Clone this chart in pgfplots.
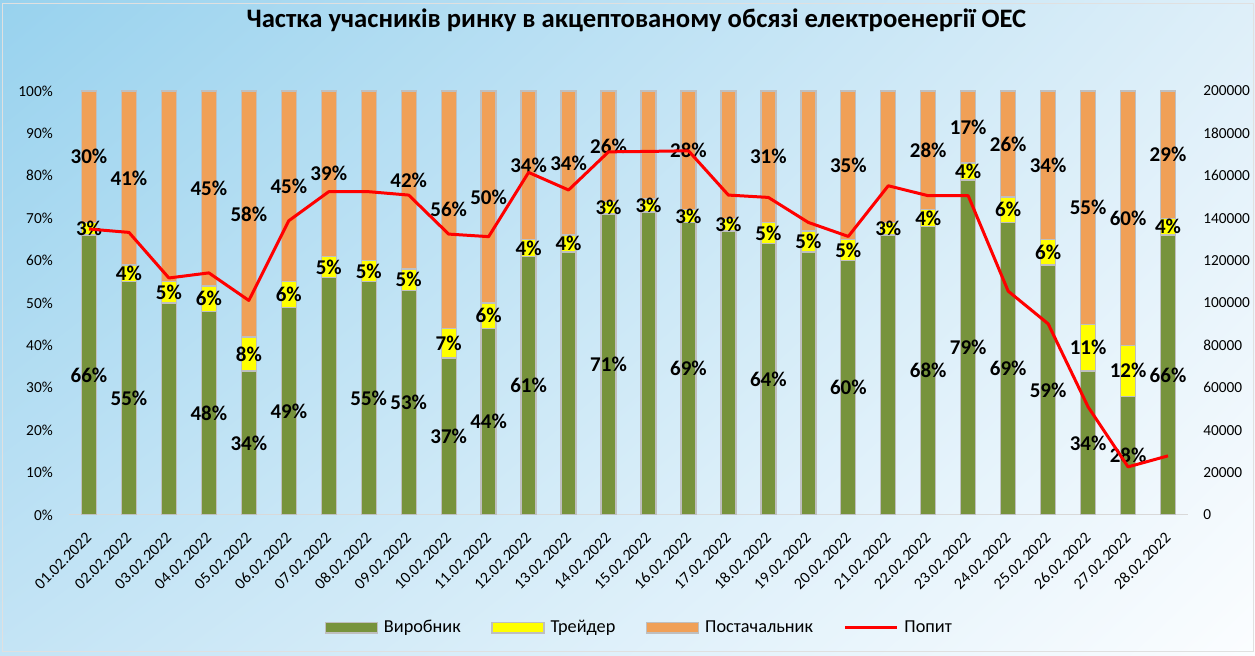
\documentclass[border=0pt]{standalone}
\usepackage{fontspec}
\setmainfont{Carlito}
\usepackage{pgfplots}
\usepackage{pgfplotstable}
\usetikzlibrary{shadings}
\pgfplotsset{compat=1.18}

\definecolor{cgreen}{HTML}{77933C}
\definecolor{cyellow}{HTML}{FFFF00}
\definecolor{corange}{HTML}{F0A057}
\definecolor{cborder}{HTML}{BFBFBF}
\definecolor{caxis}{HTML}{D9D9D9}
\definecolor{bgul}{HTML}{98D2EE}
\definecolor{bgur}{HTML}{DEEFF9}
\definecolor{bgll}{HTML}{C4E4F5}
\definecolor{bglr}{HTML}{FBFDFF}

% x: day index; gen/trd/sup: shares in %; sg/st/ss: label shown (1) or hidden (0); dem: demand
\pgfplotstableread{
x  gen  trd sup sg st ss dem
0  66   3   30  1  1  1  134900
1  55   4   41  1  1  1  133300
2  50   5   45  0  1  0  111800
3  48   6   45  1  1  1  114200
4  34   8   58  1  1  1  101200
5  49   6   45  1  1  1  138800
6  56   5   39  0  1  1  152500
7  55   5   41  1  1  0  152500
8  53   5   42  1  1  1  150900
9  37   7   56  1  1  1  132500
10 44   6   50  1  1  1  131300
11 61   4   34  1  1  1  161600
12 62   4   34  0  1  1  153300
13 71   3   26  1  1  1  171300
14 71.5 3   25  0  1  0  171500
15 69   3   28  1  1  1  171800
16 67   3   30  0  1  0  150900
17 64   5   31  1  1  1  149800
18 62   5   33  0  1  0  138000
19 60   5   35  1  1  1  131400
20 66   3   31  0  1  0  155300
21 68   4   28  1  1  1  150600
22 79   4   17  1  1  1  150600
23 69   6   26  1  1  1  105600
24 59   6   34  1  1  1  90200
25 34   11  55  1  1  1  51000
26 28   12  60  1  1  1  22700
27 66   4   29  1  1  1  27900
}\data

\pgfplotsset{
  base/.style={
    at={(51.75pt,105.75pt)}, anchor=south west,
    scale only axis, width=839.25pt, height=318pt,
    xmin=-0.5, xmax=27.5,
    /pgf/number format/assume math mode=true,
  },
  lbl/.style={
    draw=none, no markers, point meta=explicit,
    nodes near coords={\pgfmathprintnumber[fixed,precision=0]{\pgfplotspointmeta}\%},
    every node near coord/.append style={anchor=center, inner sep=0pt,
      font=\bfseries\fontsize{15.75}{18}\selectfont, text=black},
  },
}

\begin{document}
\begin{tikzpicture}
\useasboundingbox (0,0) rectangle (941.25pt,492pt);
\shade[upper left=bgul, upper right=bgur, lower left=bgll, lower right=bglr]
  (0,0) rectangle (941.25pt,492pt);
\draw[black!12, line width=0.75pt] (1.5pt,3pt) rectangle (939.75pt,489pt);

% bars
\begin{axis}[base,
  ybar stacked, bar width=11.25pt,
  ymin=0, ymax=100,
  axis lines*=left, axis line style={-},
  y axis line style={draw=none},
  x axis line style={draw=caxis, line width=0.75pt},
  ytick={0,10,...,100},
  yticklabel={\pgfmathprintnumber{\tick}\%},
  yticklabel style={anchor=east, inner sep=0pt, xshift=-12pt,
    font=\fontsize{11.5}{13}\selectfont},
  ytick style={draw=none},
  xtick={0,...,27},
  xticklabels={01.02.2022,02.02.2022,03.02.2022,04.02.2022,05.02.2022,06.02.2022,07.02.2022,
    08.02.2022,09.02.2022,10.02.2022,11.02.2022,12.02.2022,13.02.2022,14.02.2022,
    15.02.2022,16.02.2022,17.02.2022,18.02.2022,19.02.2022,20.02.2022,21.02.2022,
    22.02.2022,23.02.2022,24.02.2022,25.02.2022,26.02.2022,27.02.2022,28.02.2022},
  xticklabel style={xshift=0pt, yshift=-15pt, rotate=45, anchor=east, inner sep=0pt,
    font=\fontsize{12}{14}\selectfont},
  major x tick style={draw=none},
  extra x ticks={-0.5,0.5,...,27.5},
  extra x tick labels={},
  extra x tick style={tick align=outside, major tick length=4.5pt,
    tick style={draw=caxis, line width=0.75pt}},
  title={Частка учасників ринку в акцептованому обсязі електроенергії ОЕС},
  title style={at={(0.507,1.132)}, anchor=base,
    font=\bfseries\fontsize{20}{24}\selectfont},
]
\addplot[fill=cgreen, draw=cborder, line width=1pt] table[x=x, y=gen] {\data};
\addplot[fill=cyellow, draw=cborder, line width=1pt] table[x=x, y=trd] {\data};
\addplot[fill=corange, draw=cborder, line width=1pt] table[x=x, y expr={100-\thisrow{gen}-\thisrow{trd}}] {\data};
\end{axis}

% data labels
\begin{axis}[base, hide axis, clip=false, ymin=0, ymax=100]
\addplot[lbl] table[x=x, y expr={\thisrow{sg}>0 ? \thisrow{gen}/2 : nan}, meta=gen] {\data};
\addplot[lbl] table[x=x, y expr={\thisrow{st}>0 ? \thisrow{gen}+\thisrow{trd}/2 : nan}, meta=trd] {\data};
\addplot[lbl] table[x=x, y expr={\thisrow{ss}>0 ? (100+\thisrow{gen}+\thisrow{trd})/2 : nan}, meta=sup] {\data};
\end{axis}

% demand, right axis
\begin{axis}[base,
  ymin=0, ymax=200000,
  axis x line=none,
  axis y line*=right, axis line style={draw=none},
  ytick={0,20000,...,200000},
  ytick style={draw=none},
  scaled y ticks=false,
  yticklabel style={/pgf/number format/1000 sep={}, /pgf/number format/fixed,
    anchor=west, inner sep=0pt, xshift=11.25pt,
    font=\fontsize{11.5}{13}\selectfont},
  legend columns=4,
  legend style={at={(0.5097,-0.2658)}, anchor=center, draw=none, fill=none,
    font=\fontsize{13.7}{16}\selectfont, nodes={inner sep=1.5pt},
    /tikz/every odd column/.append style={column sep=2.8pt},
    /tikz/every even column/.append style={column sep=21.5pt}},
  legend cell align=left,
]
\addlegendimage{legend image code/.code={\filldraw[fill=cgreen, draw=cborder, line width=1pt] (0pt,-3.9pt) rectangle (39pt,3.9pt);}}
\addlegendentry{Виробник}
\addlegendimage{legend image code/.code={\filldraw[fill=cyellow, draw=cborder, line width=1pt] (0pt,-3.9pt) rectangle (39pt,3.9pt);}}
\addlegendentry{Трейдер}
\addlegendimage{legend image code/.code={\filldraw[fill=corange, draw=cborder, line width=1pt] (0pt,-3.9pt) rectangle (39pt,3.9pt);}}
\addlegendentry{Постачальник}
\addplot[red, line width=2.25pt, line join=round, no markers,
  legend image code/.code={\draw[red, line width=2.25pt] (0pt,0pt) -- (39pt,0pt);}]
  table[x=x, y=dem] {\data};
\addlegendentry{Попит}
\end{axis}
\end{tikzpicture}
\end{document}
